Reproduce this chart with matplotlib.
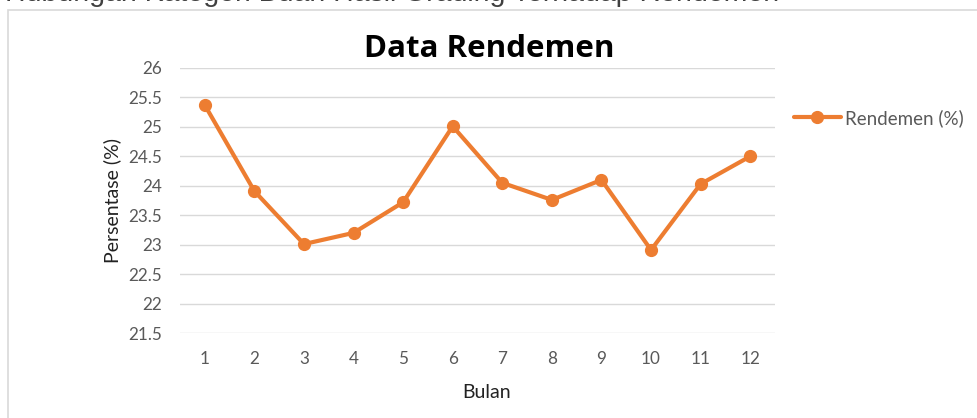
import matplotlib
matplotlib.use("Agg")
import matplotlib.pyplot as plt
from matplotlib.patches import Rectangle

months = ["1", "2", "3", "4", "5", "6", "7", "8", "9", "10", "11", "12"]
rendemen = [25.37, 23.91, 23.01, 23.20, 23.72, 25.01, 24.05, 23.76, 24.10, 22.91, 24.03, 24.50]
yticks = [21.5, 22, 22.5, 23, 23.5, 24, 24.5, 25, 25.5, 26]
ytick_labels = ["21.5", "22", "22.5", "23", "23.5", "24", "24.5", "25", "25.5", "26"]

W, H = 978, 418
fig = plt.figure(figsize=(W / 100, H / 100), dpi=100)
fig.patch.set_facecolor("white")

font = ["Lato", "DejaVu Sans"]
orange = "#ED7D31"
gray_txt = "#595959"

# chart frame (partially outside figure)
fig.patches.append(Rectangle((8 / W, -0.2), 2.0, 1 - 10 / H + 0.2, transform=fig.transFigure,
                             fill=False, edgecolor="#D9D9D9", linewidth=1.2))

# cropped caption above chart (only its lower part is visible, as in the reference)
fig.text(5 / W, 1 - 1 / H, "Hubungan Kategori Buah Hasil Grading Terhadap Rendemen",
         family=["Liberation Sans", "DejaVu Sans"], fontsize=20.5, color="#404040",
         ha="left", va="baseline")

ax = fig.add_axes([180 / W, 1 - 333 / H, (775 - 180) / W, (333 - 68) / H])
x = list(range(len(months)))
ax.plot(x, rendemen, color=orange, linewidth=3.0, marker="o", markersize=8.5,
        label="Rendemen (%)", solid_capstyle="round", zorder=3)
ax.set_xlim(-0.5, len(months) - 0.5)
ax.set_ylim(21.5, 26)
ax.set_yticks(yticks)
ax.set_yticklabels(ytick_labels, family=font, fontsize=12.3, color=gray_txt)
ax.set_xticks(x)
ax.set_xticklabels(months, family=font, fontsize=12.3, color=gray_txt)
ax.tick_params(axis="both", length=0)
ax.tick_params(axis="y", pad=13)
ax.tick_params(axis="x", pad=13)
ax.grid(axis="y", color="#D9D9D9", linewidth=1.0)
ax.set_axisbelow(True)
for s in ax.spines.values():
    s.set_visible(False)

ax.set_xlabel("Bulan", family=font, fontsize=14, color="#222222", labelpad=10)
ax.xaxis.set_label_coords((487 - 180) / (775 - 180), -(392 - 333) / (333 - 68))
ax.xaxis.label.set_verticalalignment("center")
ax.set_ylabel("Persentase (%)", family=font, fontsize=14, color="#222222", labelpad=5)

fig.text(489 / W, 1 - 49 / H, "Data Rendemen", family=["Open Sans", "DejaVu Sans"],
         fontsize=22.5, fontweight="bold", color="black", ha="center", va="center")

leg = fig.legend(loc="center left", bbox_to_anchor=(794 / W, 1 - 118 / H), frameon=False,
                 prop={"family": font, "size": 13.5}, handlelength=2.5, handletextpad=0.2,
                 borderaxespad=0, borderpad=0)
for t in leg.get_texts():
    t.set_color(gray_txt)

fig.savefig("out.png", dpi=100)
